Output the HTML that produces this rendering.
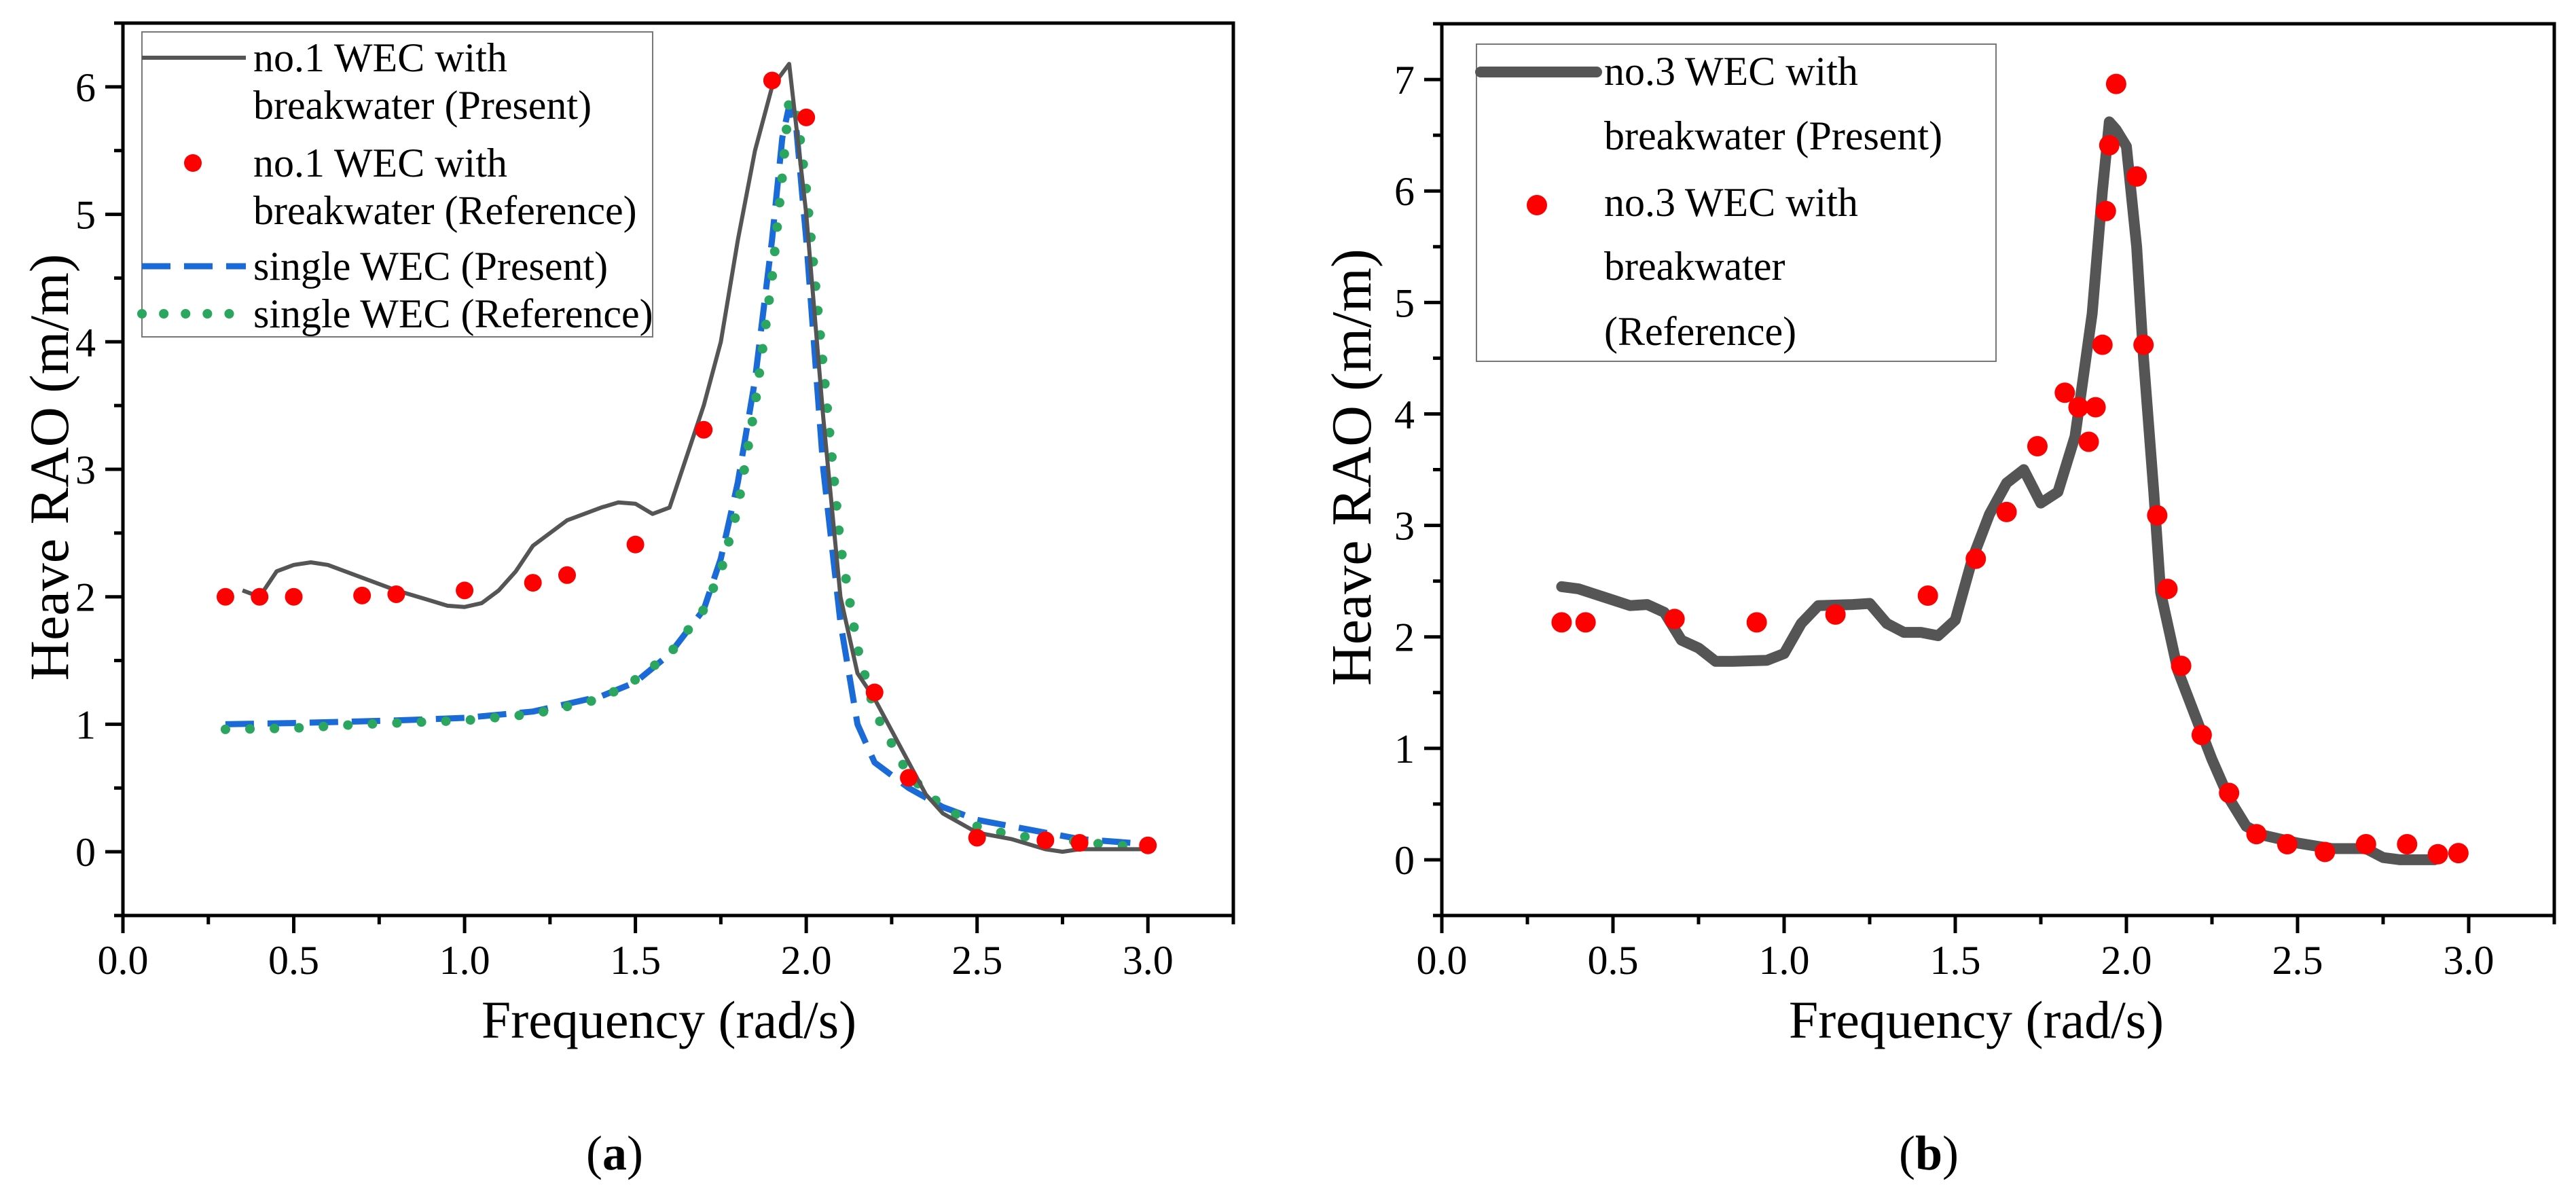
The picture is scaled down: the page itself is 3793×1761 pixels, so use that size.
<!DOCTYPE html>
<html><head><meta charset="utf-8">
<style>
html,body{margin:0;padding:0;background:#fff;}
svg{display:block;font-family:"Liberation Serif","DejaVu Serif",serif;}
</style></head>
<body>
<svg id="fig" width="3793" height="1761" viewBox="0 0 3793 1761"></svg>
<script>
// ---------- Panel (a) data ----------
const aLineX = [0.35,0.4,0.45,0.5,0.55,0.6,0.7,0.8,0.9,0.95,1.0,1.05,1.1,1.15,1.2,1.3,1.4,1.45,1.5,1.55,1.6,1.7,1.75,1.8,1.85,1.9,1.95,2.0,2.05,2.1,2.15,2.2,2.3,2.35,2.4,2.5,2.6,2.7,2.75,2.8,3.0];
const aLineY = [2.05,2.0,2.2,2.25,2.27,2.25,2.15,2.05,1.97,1.93,1.92,1.95,2.05,2.2,2.4,2.6,2.7,2.74,2.73,2.65,2.7,3.5,4.0,4.8,5.5,6.0,6.18,5.0,3.4,2.0,1.4,1.2,0.7,0.45,0.3,0.15,0.1,0.02,0.0,0.02,0.02];
const aRefX = [0.3,0.4,0.5,0.7,0.8,1.0,1.2,1.3,1.5,1.7,1.9,2.0,2.2,2.3,2.5,2.7,2.8,3.0];
const aRefY = [2.0,2.0,2.0,2.01,2.02,2.05,2.11,2.17,2.41,3.31,6.05,5.76,1.25,0.58,0.11,0.09,0.07,0.05];
const aSingX = [0.3,0.5,0.8,1.0,1.2,1.4,1.5,1.6,1.7,1.75,1.8,1.85,1.9,1.93,1.95,1.97,2.0,2.05,2.1,2.15,2.2,2.3,2.4,2.5,2.6,2.8,3.0];
const aSingY = [1.0,1.01,1.03,1.05,1.1,1.22,1.33,1.55,1.9,2.3,2.9,3.7,4.8,5.6,5.85,5.7,4.8,3.0,1.8,1.0,0.7,0.5,0.35,0.25,0.2,0.1,0.06];
const aSRefX = [0.3,0.5,0.7,1.0,1.2,1.4,1.5,1.6,1.7,1.75,1.8,1.85,1.9,1.93,1.95,1.97,2.0,2.05,2.1,2.15,2.2,2.3,2.4,2.5,2.6,2.7,2.8,2.9,3.0];
const aSRefY = [0.96,0.97,1.0,1.03,1.08,1.2,1.35,1.55,1.9,2.2,2.7,3.5,4.5,5.3,5.9,5.85,5.2,3.8,2.4,1.6,1.1,0.6,0.35,0.2,0.13,0.1,0.08,0.05,0.04];
// ---------- Panel (b) data ----------
const bLineX = [0.35,0.4,0.5,0.55,0.6,0.65,0.7,0.75,0.8,0.85,0.95,1.0,1.05,1.1,1.2,1.25,1.3,1.35,1.4,1.45,1.5,1.55,1.6,1.65,1.7,1.75,1.8,1.85,1.9,1.93,1.95,1.97,2.0,2.03,2.05,2.08,2.1,2.15,2.2,2.25,2.3,2.35,2.4,2.5,2.6,2.7,2.75,2.8,2.9];
const bLineY = [2.45,2.43,2.33,2.28,2.29,2.22,1.97,1.9,1.78,1.78,1.79,1.85,2.12,2.28,2.29,2.3,2.12,2.04,2.04,2.01,2.15,2.7,3.1,3.38,3.5,3.2,3.3,3.8,4.9,6.0,6.62,6.55,6.4,5.5,4.5,3.3,2.4,1.7,1.3,0.9,0.55,0.3,0.22,0.15,0.1,0.1,0.02,0.0,0.0];
const bRefX = [0.35,0.42,0.68,0.92,1.15,1.42,1.56,1.65,1.74,1.82,1.86,1.89,1.91,1.93,1.94,1.95,1.97,2.03,2.05,2.09,2.12,2.16,2.22,2.3,2.38,2.47,2.58,2.7,2.82,2.91,2.97];
const bRefY = [2.13,2.13,2.16,2.13,2.2,2.37,2.7,3.12,3.71,4.19,4.06,3.75,4.06,4.62,5.82,6.41,6.96,6.13,4.62,3.09,2.43,1.74,1.12,0.6,0.23,0.14,0.07,0.14,0.14,0.05,0.06];
const xTicks = ["0.0","0.5","1.0","1.5","2.0","2.5","3.0"];
const aYTicks = ["0","1","2","3","4","5","6"];
const bYTicks = ["0","1","2","3","4","5","6","7"];

const NS = "http://www.w3.org/2000/svg";
const svg = document.getElementById('fig');
function mk(tag, attrs, parent){
  const e = document.createElementNS(NS, tag);
  for (const k in attrs) e.setAttribute(k, attrs[k]);
  (parent||svg).appendChild(e);
  return e;
}
function axes(p){
  const sx = v => p.left + (v - p.x0)/(p.x1 - p.x0)*(p.right - p.left);
  const sy = v => p.bottom - (v - p.y0)/(p.y1 - p.y0)*(p.bottom - p.top);
  return {sx, sy};
}
function pathFrom(xs, ys, sx, sy){
  return xs.map((x,i)=>(i?'L':'M')+sx(x).toFixed(1)+' '+sy(ys[i]).toFixed(1)).join(' ');
}
function drawFrame(p, g, yTicks, name){
  const {sx, sy} = axes(p);
  const frame = mk('rect',{x:p.left,y:p.top,width:p.right-p.left,height:p.bottom-p.top,fill:'none',stroke:'#000','stroke-width':5},g);
  
  
  for (let v=0; v<=3.25+1e-9; v+=0.25){
    const major = Math.abs(v*2-Math.round(v*2))<1e-6;
    const t = mk('line',{x1:sx(v),x2:sx(v),y1:p.bottom,y2:p.bottom+(major?26:13),stroke:'#000','stroke-width':5},g);
    
    
  }
  xTicks.forEach(lbl=>{
    const v = parseFloat(lbl);
    const t = mk('text',{x:sx(v),y:p.bottom+86,'font-size':60,'text-anchor':'middle',fill:'#000'},g);
    t.textContent = lbl;
    
    
  });
  for (let v=-0.5; v<=p.y1+1e-9; v+=0.5){
    const major = Math.abs(v-Math.round(v))<1e-6;
    const t = mk('line',{x1:p.left-(major?26:13),x2:p.left,y1:sy(v),y2:sy(v),stroke:'#000','stroke-width':5},g);
    
    
  }
  yTicks.forEach(lbl=>{
    const v = parseFloat(lbl);
    const t = mk('text',{x:p.left-40,y:sy(v)+21,'font-size':60,'text-anchor':'end',fill:'#000'},g);
    t.textContent = lbl;
    
    
  });
  const xt = mk('text',{x:p.xtc,y:p.bottom+180,'font-size':78,'text-anchor':'middle',fill:'#000'},g);
  xt.textContent = 'Frequency (rad/s)';
  
  
  const yx = p.ytx, yy = 688;
  const yt = mk('text',{x:yx,y:yy,'font-size':p.ytf,'text-anchor':'middle',fill:'#000',transform:'rotate(-90 '+yx+' '+yy+')'},g);
  yt.textContent = 'Heave RAO (m/m)';
  
  
  return {sx, sy};
}

// ---------- Panel (a) ----------
const pA = {left:181,right:1816,top:34,bottom:1348,x0:0,x1:3.25,y0:-0.5,y1:6.5,xtc:985,ytx:100,ytf:82};
const gA = mk('g',{});


const A = drawFrame(pA, gA, aYTicks, 'panel-a');
const sA = mk('path',{d:pathFrom(aSingX,aSingY,A.sx,A.sy),fill:'none',stroke:'#1a6ad8','stroke-width':9,'stroke-dasharray':'42 20','stroke-linejoin':'round'},gA);


const srA = mk('path',{d:pathFrom(aSRefX,aSRefY,A.sx,A.sy),fill:'none',stroke:'#2aa65f','stroke-width':14,'stroke-dasharray':'0.1 36','stroke-linecap':'round'},gA);


const lA = mk('path',{d:pathFrom(aLineX,aLineY,A.sx,A.sy),fill:'none',stroke:'#555','stroke-width':6,'stroke-linejoin':'round'},gA);


aRefX.forEach((x,i)=>{
  const c = mk('circle',{cx:A.sx(x),cy:A.sy(aRefY[i]),r:13,fill:'#ff0000'},gA);
  
  
});
const legA = mk('g',{},gA);


mk('rect',{x:209,y:47,width:752,height:449,fill:'#fff',stroke:'#777','stroke-width':2},legA);
mk('line',{x1:209,x2:362,y1:85,y2:85,stroke:'#555','stroke-width':6},legA);
mk('circle',{cx:284,cy:240,r:13,fill:'#ff0000'},legA);
mk('line',{x1:209,x2:362,y1:392,y2:392,stroke:'#1a6ad8','stroke-width':9,'stroke-dasharray':'42 20'},legA);
mk('line',{x1:209,x2:362,y1:462,y2:462,stroke:'#2aa65f','stroke-width':14,'stroke-dasharray':'0.1 32','stroke-linecap':'round'},legA);
const legAText = ["no.1 WEC with","breakwater (Present)","no.1 WEC with","breakwater (Reference)","single WEC (Present)","single WEC (Reference)"];
const legAY = [105,175,260,330,412,482];
legAText.forEach((s,i)=>{
  const t = mk('text',{x:373,y:legAY[i],'font-size':60,fill:'#000'},legA);
  t.textContent = s;
  
  
});

// ---------- Panel (b) ----------
const pB = {left:2123,right:3761,top:35,bottom:1348,x0:0,x1:3.25,y0:-0.5,y1:7.5,xtc:2910,ytx:2018,ytf:84};
const gB = mk('g',{});


const B = drawFrame(pB, gB, bYTicks, 'panel-b');
const lB = mk('path',{d:pathFrom(bLineX,bLineY,B.sx,B.sy),fill:'none',stroke:'#555','stroke-width':16,'stroke-linejoin':'round','stroke-linecap':'round'},gB);


bRefX.forEach((x,i)=>{
  const c = mk('circle',{cx:B.sx(x),cy:B.sy(bRefY[i]),r:15,fill:'#ff0000'},gB);
  
  
});
const legB = mk('g',{},gB);


mk('rect',{x:2174,y:65,width:765,height:467,fill:'#fff',stroke:'#777','stroke-width':2},legB);
mk('line',{x1:2180,x2:2351,y1:106,y2:106,stroke:'#555','stroke-width':16,'stroke-linecap':'round'},legB);
mk('circle',{cx:2263,cy:302,r:15,fill:'#ff0000'},legB);
const legBText = ["no.3 WEC with","breakwater (Present)","no.3 WEC with","breakwater","(Reference)"];
const legBY = [125,220,318,412,508];
legBText.forEach((s,i)=>{
  const t = mk('text',{x:2362,y:legBY[i],'font-size':60,fill:'#000'},legB);
  t.textContent = s;
  
  
});

const capA = mk('text',{x:905,y:1722,'font-size':72,'text-anchor':'middle',fill:'#000'});
capA.innerHTML = '(<tspan font-weight="bold">a</tspan>)';


const capB = mk('text',{x:2840,y:1722,'font-size':72,'text-anchor':'middle',fill:'#000'});
capB.innerHTML = '(<tspan font-weight="bold">b</tspan>)';


</script>
</body></html>
